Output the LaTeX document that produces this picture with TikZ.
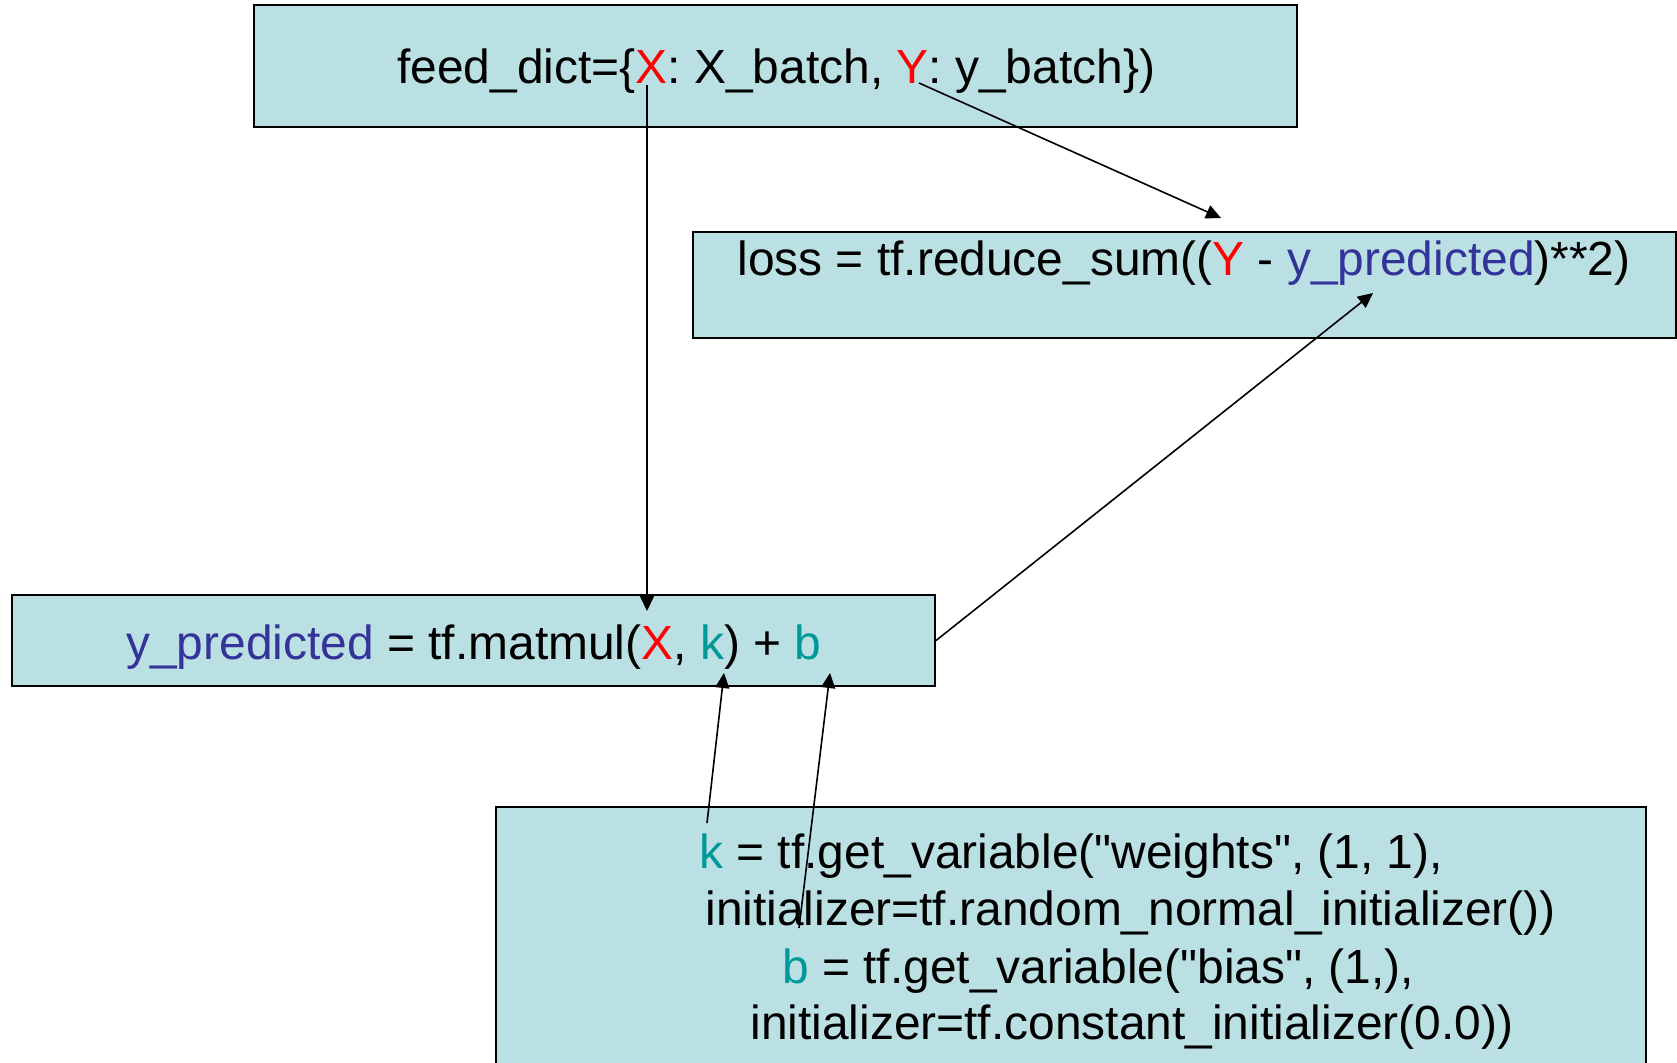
\documentclass[tikz,border=0pt]{standalone}
\usepackage{fontspec}
\setmainfont{Liberation Sans}[Ligatures=TeXOff]
\usetikzlibrary{arrows.meta}
\definecolor{boxfill}{RGB}{187,224,227}
\definecolor{vred}{RGB}{255,0,0}
\definecolor{vblue}{RGB}{51,51,153}
\definecolor{vteal}{RGB}{0,153,153}
\begin{document}
\begin{tikzpicture}[x=0.5pt,y=-0.5pt,
  box/.style={draw=black, line width=1pt, fill=boxfill, rectangle, inner sep=0pt},
  code/.style={anchor=base west, inner sep=0pt, font=\fontsize{23.95pt}{28pt}\selectfont},
  link/.style={line width=0.8pt, -{Triangle[length=7.5pt,width=7pt]}}]
\useasboundingbox (0,0) rectangle (1677,1062);
\clip (0,0) rectangle (1677,1062);
% boxes
\node[box, minimum width=521.5pt, minimum height=61pt] (topbox) at (775.5,66) {};
\node[box, minimum width=491.5pt, minimum height=53pt] (lossbox) at (1184.5,285) {};
\node[box, minimum width=461.5pt, minimum height=45.5pt] (predbox) at (473.5,640.5) {};
\node[box, minimum width=575pt, minimum height=140pt] (varbox) at (1071,947) {};
% texts
\node[code] (feed) at (397,83) {feed\_dict=\{{\color{vred}X}: X\_batch, {\color{vred}Y}: y\_batch\})};
\node[code] (loss) at (737,275) {loss = tf.reduce\_sum(({\color{vred}Y} - {\color{vblue}y\_predicted})**2)};
\node[code] (pred) at (126,659) {{\color{vblue}y\_predicted} = tf.matmul({\color{vred}X}, {\color{vteal}k}) + {\color{vteal}b}};
\node[code] (kline) at (699,868) {{\color{vteal}k} = tf.get\_variable("weights", (1, 1),};
\node[code] (kinit) at (705,925) {initializer=tf.random\_normal\_initializer())};
\node[code] (bline) at (782,983) {{\color{vteal}b} = tf.get\_variable("bias", (1,),};
\node[code] (binit) at (750,1039) {initializer=tf.constant\_initializer(0.0))};
% connector end points
\coordinate (xsrc) at (647,85);
\coordinate (xdst) at (647,611);
\coordinate (ysrc) at (919,83);
\coordinate (ydst) at (1221,218);
\coordinate (pdst) at (1373,293);
\coordinate (ksrc) at (707,823);
\coordinate (kdst) at (724,673);
\coordinate (bsrc) at (799,928);
\coordinate (bdst) at (830,673);
% connectors
\draw[link] (xsrc) -- (xdst);
\draw[link] (ysrc) -- (ydst);
\draw[link] (predbox.east) -- (pdst);
\draw[link] (ksrc) -- (kdst);
\draw[link] (bsrc) -- (bdst);
\end{tikzpicture}
\end{document}
